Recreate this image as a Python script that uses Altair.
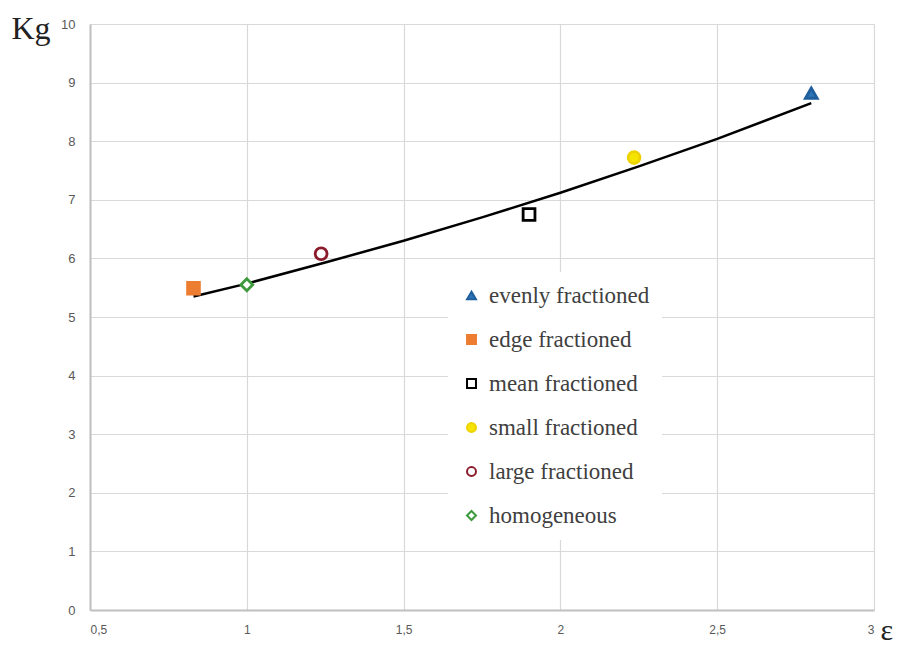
import altair as alt
import pandas as pd

# --- data ---
series = ["evenly fractioned", "edge fractioned", "mean fractioned",
          "small fractioned", "large fractioned", "homogeneous"]
eps = [2.80, 0.83, 1.90, 2.235, 1.237, 1.00]
kg = [8.82, 5.49, 6.75, 7.72, 6.08, 5.55]

shapes = ["triangle-up", "square", "square", "circle", "circle", "diamond"]
fills = ["#2E75B6", "#ED7D31", "#FFFFFF", "#F5E400", "#FFFFFF", "#FFFFFF"]
strokes = ["#1F5F9E", "#ED7D31", "#000000", "#EED200", "#8B1A2A", "#3C9A3C"]

trend_x = [0.83, 1.0, 1.25, 1.5, 1.75, 2.0, 2.25, 2.5, 2.8]
trend_y = [5.35, 5.57, 5.93, 6.30, 6.70, 7.12, 7.57, 8.04, 8.65]

x_ticks = [0.5, 1, 1.5, 2, 2.5, 3]
y_ticks = list(range(0, 11))

pts = pd.DataFrame({"eps": eps, "kg": kg, "series": series})
trend = pd.DataFrame({"eps": trend_x, "kg": trend_y})

xscale = alt.Scale(domain=[0.5, 3], nice=False, zero=False)
yscale = alt.Scale(domain=[0, 10], nice=False)

xaxis = alt.Axis(
    values=x_ticks, title="ε", titleFont="Liberation Serif", titleFontSize=30,
    titleFontWeight="normal", titleColor="#222222", titleAngle=0,
    titleX=790, titleY=29, titleAlign="left", titleBaseline="alphabetic",
    labelExpr="replace(format(datum.value, '.1~f'), '.', ',')",
    labelFont="Liberation Sans", labelFontSize=12, labelColor="#595959",
    labelPadding=14, tickSize=0, domainColor="#BFBFBF", domainWidth=2,
    gridColor="#D9D9D9", gridWidth=1.2)
yaxis = alt.Axis(
    values=y_ticks, format="d", title="Kg", titleFont="Liberation Serif", titleFontSize=32,
    titleFontWeight="normal", titleColor="#222222", titleAngle=0,
    titleX=-79, titleY=14, titleAlign="left", titleBaseline="alphabetic",
    labelFont="Liberation Sans", labelFontSize=13, labelColor="#595959",
    labelPadding=15, tickSize=0, domainColor="#BFBFBF", domainWidth=2,
    gridColor="#D9D9D9", gridWidth=1.2)

line = alt.Chart(trend).mark_line(color="black", strokeWidth=2.5).encode(
    x=alt.X("eps:Q", scale=xscale, axis=xaxis),
    y=alt.Y("kg:Q", scale=yscale, axis=yaxis),
)

leg = alt.Legend(
    title=None, orient="none", legendX=358, legendY=248, fillColor="white",
    padding=12, labelFont="Liberation Serif", labelFontSize=23,
    labelColor="#404040", symbolSize=80, symbolStrokeWidth=2,
    rowPadding=20, labelOffset=6, labelLimit=400)

points = alt.Chart(pts).mark_point(opacity=1, strokeWidth=2.8, size=140).encode(
    x=alt.X("eps:Q", scale=xscale),
    y=alt.Y("kg:Q", scale=yscale),
    shape=alt.Shape("series:N", scale=alt.Scale(domain=series, range=shapes), legend=leg),
    fill=alt.Fill("series:N", scale=alt.Scale(domain=series, range=fills), legend=leg),
    stroke=alt.Stroke("series:N", scale=alt.Scale(domain=series, range=strokes), legend=leg),
)

chart = alt.layer(line, points).properties(
    width=784, height=586,
    autosize=alt.AutoSizeParams(type="none"),
    padding={"left": 82, "top": 16, "right": 40, "bottom": 37},
    background="white",
).configure_view(strokeWidth=0)

chart.save("out.html", embed_options={"renderer": "svg", "actions": False})
